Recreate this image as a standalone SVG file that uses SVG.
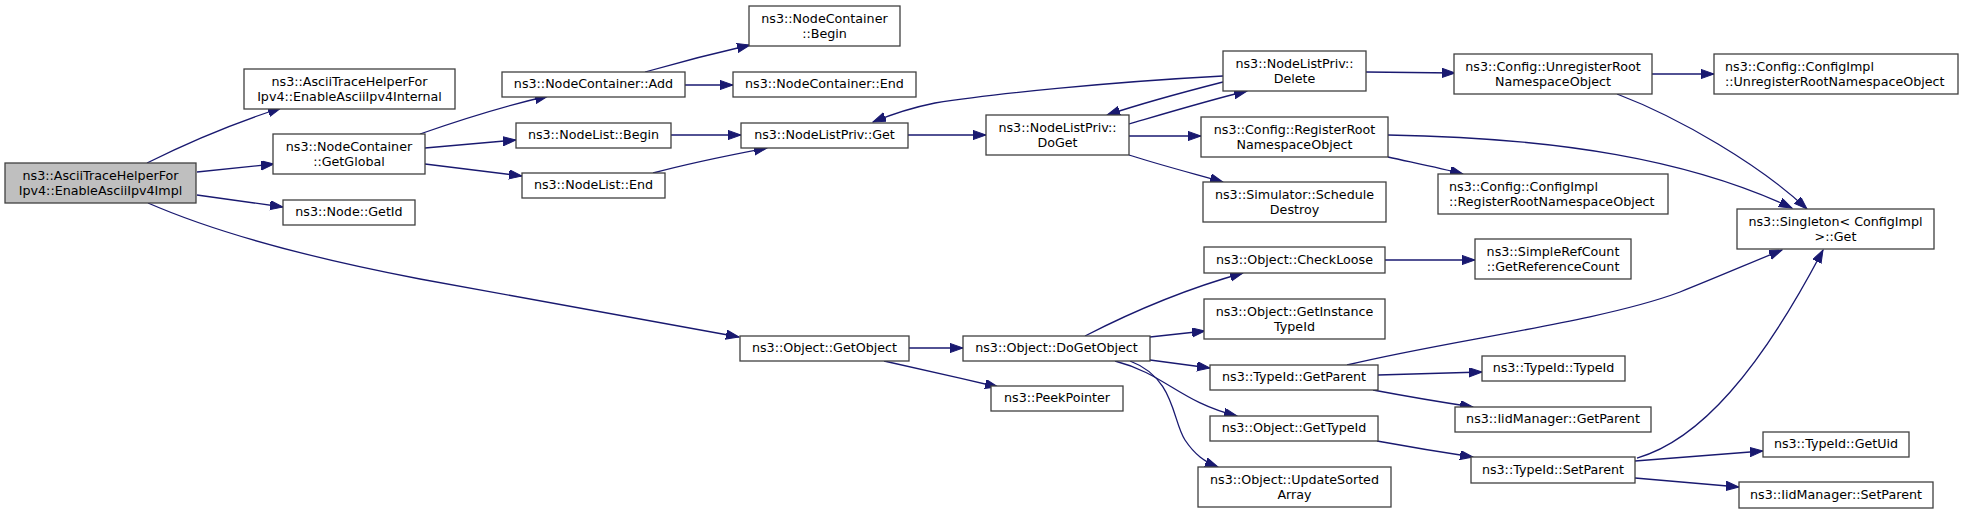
<svg xmlns="http://www.w3.org/2000/svg" width="1972" height="514" viewBox="0 0 1972 514">
<style>
.n rect{fill:#ffffff;stroke:#404040;stroke-width:1.3}
.n.root rect{fill:#bfbfbf}
.n text{font-family:"DejaVu Sans",sans-serif;font-size:12.7px;fill:#000;text-anchor:middle}
.n text.l{text-anchor:start}
.e path{fill:none;stroke:#191970;stroke-width:1.3;marker-end:url(#ah)}
</style>
<defs>
<marker id="ah" markerUnits="userSpaceOnUse" markerWidth="14" markerHeight="10" refX="13" refY="4.6" orient="auto">
<path d="M0,0 L13,4.6 L0,9.2 z" fill="#191970" stroke="#191970" stroke-width="1"/>
</marker>
</defs>
<rect width="1972" height="514" fill="#ffffff"/>
<g id="edges" class="e">
<path d="M147,163 C185,144 225,126 281,108"/>
<path d="M197,172 L274,164"/>
<path d="M197,195 L283,207"/>
<path d="M148,203 C210,230 300,256 420,279 C540,301 650,320 739,337"/>
<path d="M420,134 C460,120 500,107 548,96"/>
<path d="M425,148 L516,140"/>
<path d="M425,164 L522,176"/>
<path d="M645,72 C680,62 715,53 750,45"/>
<path d="M685,85 L733,85"/>
<path d="M671,135 L741,135"/>
<path d="M653,173 C690,163 730,155 767,148"/>
<path d="M908,135 L986,135"/>
<path d="M1223,76 C1110,82 990,94 935,103 C910,108 890,115 873,122"/>
<path d="M1129,124 C1170,112 1210,100 1247,91"/>
<path d="M1223,82 C1180,93 1140,104 1107,115"/>
<path d="M1129,136 L1201,136"/>
<path d="M1129,155 C1160,165 1195,174 1223,182"/>
<path d="M1366,72 L1455,73"/>
<path d="M1388,157 C1415,163 1440,168 1463,174"/>
<path d="M1388,135 C1560,138 1690,160 1792,208"/>
<path d="M1652,74 L1714,74"/>
<path d="M1617,94 C1680,118 1760,165 1807,209"/>
<path d="M909,348 L963,348"/>
<path d="M884,361 C920,369 960,378 998,387"/>
<path d="M1085,336 C1120,318 1175,292 1243,273"/>
<path d="M1150,337 L1205,331"/>
<path d="M1150,360 L1210,368"/>
<path d="M1115,361 C1165,374 1180,402 1237,416"/>
<path d="M1130,361 C1175,378 1172,420 1185,440 C1195,455 1205,462 1218,467"/>
<path d="M1385,260 L1475,260"/>
<path d="M1347,365 C1450,340 1600,322 1680,292 C1720,276 1750,263 1782,250"/>
<path d="M1378,375 L1482,372"/>
<path d="M1373,390 C1405,396 1440,402 1473,407"/>
<path d="M1377,441 C1410,447 1440,452 1473,457"/>
<path d="M1637,458 C1700,440 1760,370 1823,250"/>
<path d="M1635,461 L1763,451"/>
<path d="M1635,478 L1739,487"/>
</g>
<g id="root" class="n root"><rect x="5" y="163" width="191" height="40"/><text x="100.5" y="180">ns3::AsciiTraceHelperFor</text><text x="100.5" y="195">Ipv4::EnableAsciiIpv4Impl</text></g>
<g id="internal" class="n"><rect x="244" y="69" width="211" height="40"/><text x="349.5" y="86">ns3::AsciiTraceHelperFor</text><text x="349.5" y="101">Ipv4::EnableAsciiIpv4Internal</text></g>
<g id="getglobal" class="n"><rect x="273" y="134" width="152" height="40"/><text x="349" y="151">ns3::NodeContainer</text><text x="349" y="166">::GetGlobal</text></g>
<g id="nodegetid" class="n"><rect x="283" y="200" width="132" height="25"/><text x="349" y="216">ns3::Node::GetId</text></g>
<g id="ncadd" class="n"><rect x="502" y="72" width="183" height="25"/><text x="593.5" y="88">ns3::NodeContainer::Add</text></g>
<g id="ncbegin" class="n"><rect x="749" y="6" width="151" height="40"/><text x="824.5" y="23">ns3::NodeContainer</text><text x="824.5" y="38">::Begin</text></g>
<g id="ncend" class="n"><rect x="733" y="72" width="183" height="25"/><text x="824.5" y="88">ns3::NodeContainer::End</text></g>
<g id="nlbegin" class="n"><rect x="516" y="123" width="155" height="25"/><text x="593.5" y="139">ns3::NodeList::Begin</text></g>
<g id="nlend" class="n"><rect x="522" y="173" width="143" height="25"/><text x="593.5" y="189">ns3::NodeList::End</text></g>
<g id="nlpget" class="n"><rect x="741" y="123" width="167" height="25"/><text x="824.5" y="139">ns3::NodeListPriv::Get</text></g>
<g id="nlpdoget" class="n"><rect x="986" y="115" width="143" height="40"/><text x="1057.5" y="132">ns3::NodeListPriv::</text><text x="1057.5" y="147">DoGet</text></g>
<g id="nlpdelete" class="n"><rect x="1223" y="51" width="143" height="40"/><text x="1294.5" y="68">ns3::NodeListPriv::</text><text x="1294.5" y="83">Delete</text></g>
<g id="regroot" class="n"><rect x="1201" y="117" width="187" height="40"/><text x="1294.5" y="134">ns3::Config::RegisterRoot</text><text x="1294.5" y="149">NamespaceObject</text></g>
<g id="schedule" class="n"><rect x="1203" y="182" width="183" height="40"/><text x="1294.5" y="199">ns3::Simulator::Schedule</text><text x="1294.5" y="214">Destroy</text></g>
<g id="unregroot" class="n"><rect x="1454" y="54" width="198" height="40"/><text x="1553" y="71">ns3::Config::UnregisterRoot</text><text x="1553" y="86">NamespaceObject</text></g>
<g id="ciunreg" class="n"><rect x="1714" y="54" width="244" height="40"/><text class="l" x="1725" y="71">ns3::Config::ConfigImpl</text><text class="l" x="1725" y="86">::UnregisterRootNamespaceObject</text></g>
<g id="cireg" class="n"><rect x="1438" y="174" width="230" height="40"/><text class="l" x="1449" y="191">ns3::Config::ConfigImpl</text><text class="l" x="1449" y="206">::RegisterRootNamespaceObject</text></g>
<g id="singleton" class="n"><rect x="1737" y="209" width="197" height="40"/><text x="1835.5" y="226">ns3::Singleton&lt; ConfigImpl</text><text x="1835.5" y="241">&gt;::Get</text></g>
<g id="refcount" class="n"><rect x="1475" y="239" width="156" height="40"/><text x="1553" y="256">ns3::SimpleRefCount</text><text x="1553" y="271">::GetReferenceCount</text></g>
<g id="checkloose" class="n"><rect x="1204" y="247" width="181" height="26"/><text x="1294.5" y="264">ns3::Object::CheckLoose</text></g>
<g id="getinstance" class="n"><rect x="1204" y="299" width="181" height="40"/><text x="1294.5" y="316">ns3::Object::GetInstance</text><text x="1294.5" y="331">TypeId</text></g>
<g id="tgetparent" class="n"><rect x="1210" y="365" width="168" height="25"/><text x="1294" y="381">ns3::TypeId::GetParent</text></g>
<g id="getobject" class="n"><rect x="740" y="336" width="169" height="25"/><text x="824.5" y="352">ns3::Object::GetObject</text></g>
<g id="dogetobject" class="n"><rect x="963" y="336" width="187" height="25"/><text x="1056.5" y="352">ns3::Object::DoGetObject</text></g>
<g id="peek" class="n"><rect x="991" y="386" width="132" height="25"/><text x="1057" y="402">ns3::PeekPointer</text></g>
<g id="ogettypeid" class="n"><rect x="1210" y="416" width="168" height="25"/><text x="1294" y="432">ns3::Object::GetTypeId</text></g>
<g id="updsorted" class="n"><rect x="1198" y="467" width="193" height="40"/><text x="1294.5" y="484">ns3::Object::UpdateSorted</text><text x="1294.5" y="499">Array</text></g>
<g id="ttypeid" class="n"><rect x="1482" y="356" width="143" height="25"/><text x="1553.5" y="372">ns3::TypeId::TypeId</text></g>
<g id="iidgetparent" class="n"><rect x="1455" y="407" width="196" height="25"/><text x="1553" y="423">ns3::IidManager::GetParent</text></g>
<g id="setparent" class="n"><rect x="1471" y="457" width="164" height="26"/><text x="1553" y="474">ns3::TypeId::SetParent</text></g>
<g id="getuid" class="n"><rect x="1763" y="432" width="146" height="25"/><text x="1836" y="448">ns3::TypeId::GetUid</text></g>
<g id="iidsetparent" class="n"><rect x="1739" y="482" width="194" height="26"/><text x="1836" y="499">ns3::IidManager::SetParent</text></g>
</svg>
